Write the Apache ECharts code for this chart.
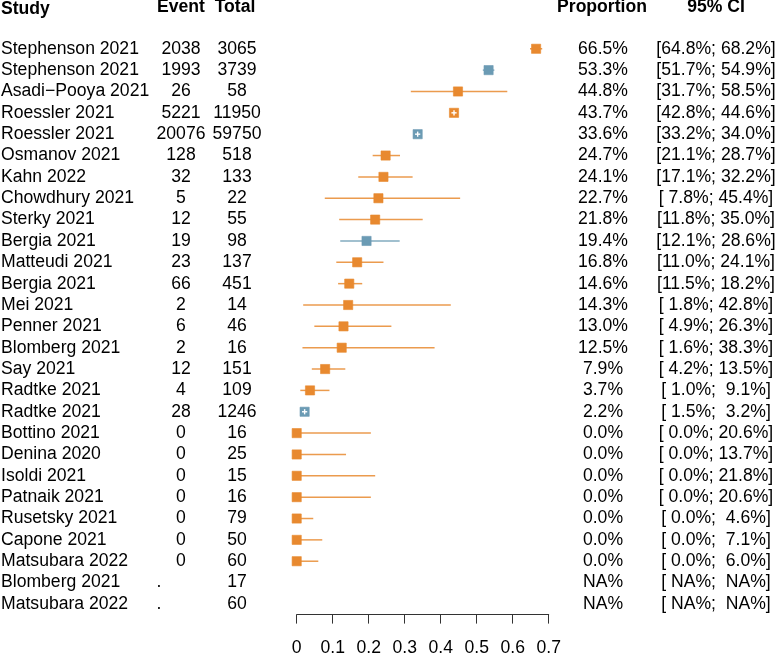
<!DOCTYPE html>
<html>
<head>
<meta charset="utf-8">
<script src="https://cdn.jsdelivr.net/npm/echarts@6/dist/echarts.min.js"></script>
<style>
html,body{margin:0;padding:0;background:#fff;}
#chart{width:776px;height:653px;}
</style>
</head>
<body>
<div id="chart"></div>
<script>
const studies = ['Stephenson 2021','Stephenson 2021','Asadi\u2212Pooya 2021','Roessler 2021','Roessler 2021','Osmanov 2021','Kahn 2022','Chowdhury 2021','Sterky 2021','Bergia 2021','Matteudi 2021','Bergia 2021','Mei 2021','Penner 2021','Blomberg 2021','Say 2021','Radtke 2021','Radtke 2021','Bottino 2021','Denina 2020','Isoldi 2021','Patnaik 2021','Rusetsky 2021','Capone 2021','Matsubara 2022','Blomberg 2021','Matsubara 2022'];
const events = ['2038','1993','26','5221','20076','128','32','5','12','19','23','66','2','6','2','12','4','28','0','0','0','0','0','0','0','.','.'];
const totals = ['3065','3739','58','11950','59750','518','133','22','55','98','137','451','14','46','16','151','109','1246','16','25','15','16','79','50','60','17','60'];
const proportions = [0.665,0.533,0.448,0.437,0.336,0.247,0.241,0.227,0.218,0.194,0.168,0.146,0.143,0.130,0.125,0.079,0.037,0.022,0,0,0,0,0,0,0,null,null];
const lower = [0.648,0.517,0.317,0.428,0.332,0.211,0.171,0.078,0.118,0.121,0.110,0.115,0.018,0.049,0.016,0.042,0.010,0.015,0,0,0,0,0,0,0,null,null];
const upper = [0.682,0.549,0.585,0.446,0.340,0.287,0.322,0.454,0.350,0.286,0.241,0.182,0.428,0.263,0.383,0.135,0.091,0.032,0.206,0.137,0.218,0.206,0.046,0.071,0.060,null,null];
const groups = ['A','B','A','A','B','A','A','A','A','B','A','A','A','A','A','A','A','B','A','A','A','A','A','A','A','A','A'];
const xTicks = [0,0.1,0.2,0.3,0.4,0.5,0.6,0.7];
const headers = ['Study','Event','Total','Proportion','95% CI'];

const COLORS = {A:'#E8892F', B:'#6B9BB4'};
const FONT = "'Liberation Sans', Arial, Helvetica, sans-serif";
const FS = 17.6;

function pct(v){ return v==null ? 'NA' : (v*100).toFixed(1); }
function pad(v){ let s = pct(v); if (s.length < 4) s = ' ' + s; return s; }
const propText = proportions.map(p => pct(p) + '%');
const ciText = lower.map((l,i) => '[' + pad(l) + '%; ' + pad(upper[i]) + '%]');

const chart = echarts.init(document.getElementById('chart'), null, {renderer:'canvas'});

const COLX = {study:1, event:181, eventDot:159, total:237, prop:603, ci:716};

const option = {
  animation:false,
  backgroundColor:'#fff',
  grid:{left:296.7, width:252, top:38.1, height:576.5, containLabel:false, outerBoundsMode:'none'},
  xAxis:{
    type:'value', min:0, max:0.7, interval:0.1, position:'bottom',
    axisLine:{show:true, onZero:false, lineStyle:{color:'#333', width:1}},
    axisTick:{show:true, inside:false, length:9, lineStyle:{color:'#333', width:1}},
    splitLine:{show:false},
    axisLabel:{fontFamily:FONT, fontSize:FS, color:'#000', margin:24.5,
      formatter:v => { const t = xTicks.find(x => Math.abs(x - v) < 1e-9); return t === 0 ? '0' : (t!=null ? t.toFixed(1) : ''); }}
  },
  yAxis:{type:'category', inverse:true, show:false, data:studies.map((s,i)=>i)},
  graphic:[
    {type:'text', left:1, top:0, style:{text:headers[0], font:'bold '+FS+'px '+FONT, fill:'#000'}},
    {type:'text', x:181, y:7.5, style:{text:headers[1], font:'bold '+FS+'px '+FONT, fill:'#000', textAlign:'center', textVerticalAlign:'middle'}},
    {type:'text', x:235, y:7.5, style:{text:headers[2], font:'bold '+FS+'px '+FONT, fill:'#000', textAlign:'center', textVerticalAlign:'middle'}},
    {type:'text', x:602, y:7.5, style:{text:headers[3], font:'bold '+FS+'px '+FONT, fill:'#000', textAlign:'center', textVerticalAlign:'middle'}},
    {type:'text', x:716, y:7.5, style:{text:headers[4], font:'bold '+FS+'px '+FONT, fill:'#000', textAlign:'center', textVerticalAlign:'middle'}}
  ],
  series:[
    {
      type:'custom', name:'table', clip:false,
      data:studies.map((s,i)=>[0,i]),
      encode:{x:0, y:1},
      renderItem:(params, api) => {
        const i = api.value(1);
        const y = api.coord([0, i])[1];
        const mk = (text, x, align) => ({type:'text', style:{text:text, x:x, y:y, font:FS+'px '+FONT, fill:'#000', textAlign:align, textVerticalAlign:'middle'}});
        const ev = events[i];
        return {type:'group', children:[
          mk(studies[i], COLX.study, 'left'),
          mk(ev, ev === '.' ? COLX.eventDot : COLX.event, 'center'),
          mk(totals[i], COLX.total, 'center'),
          mk(propText[i], COLX.prop, 'center'),
          mk(ciText[i], COLX.ci, 'center')
        ]};
      }
    },
    {
      type:'custom', name:'forest', clip:false,
      data:proportions.map((p,i)=>[i, p, lower[i], upper[i]]).filter(d => d[1] != null),
      encode:{x:[1,2,3], y:0},
      renderItem:(params, api) => {
        const i = api.value(0);
        const c = api.coord([api.value(1), i]);
        const l = api.coord([api.value(2), i]);
        const u = api.coord([api.value(3), i]);
        const col = COLORS[groups[i]];
        const half = 4.6;
        const children = [
          {type:'line', shape:{x1:l[0], y1:c[1], x2:u[0], y2:c[1]}, style:{stroke:col, lineWidth:1.5, opacity:0.85}},
          {type:'rect', shape:{x:c[0]-half, y:c[1]-half, width:half*2, height:half*2}, style:{fill:col, stroke:col, lineWidth:0.6, opacity:1}}
        ];
        if (u[0] - c[0] < half && c[0] - l[0] < half && api.value(3) > api.value(2)) {
          children.push({type:'line', shape:{x1:c[0]-2.6, y1:c[1], x2:c[0]+2.6, y2:c[1]}, style:{stroke:'#fff', lineWidth:1.4}});
          children.push({type:'line', shape:{x1:c[0], y1:c[1]-2.6, x2:c[0], y2:c[1]+2.6}, style:{stroke:'#fff', lineWidth:1.4}});
        }
        return {type:'group', children:children};
      }
    }
  ]
};
chart.setOption(option);
</script>
</body>
</html>
